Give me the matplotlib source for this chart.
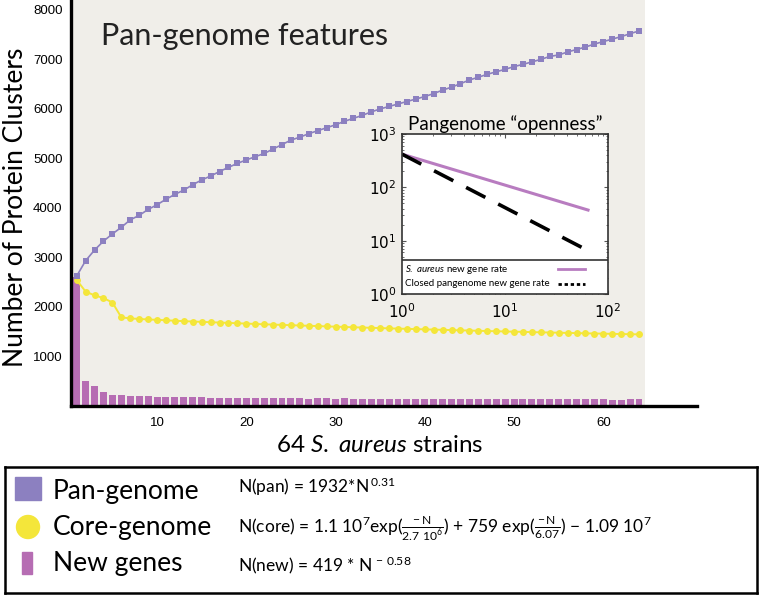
import numpy as np
import matplotlib.pyplot as plt
from matplotlib.patches import Rectangle, Circle

plt.rcParams['mathtext.fontset'] = 'custom'
plt.rcParams['mathtext.rm'] = 'Lato'
plt.rcParams['mathtext.it'] = 'Lato:italic'

# data
strains = np.arange(1, 65)
pan = [2626, 2935, 3150, 3330, 3475, 3610, 3760, 3850, 3970, 4065,
       4175, 4275, 4360, 4470, 4565, 4645, 4735, 4820, 4900, 4970,
       5035, 5100, 5190, 5280, 5370, 5430, 5500, 5560, 5620, 5680,
       5750, 5810, 5870, 5940, 6000, 6050, 6100, 6150, 6200, 6250,
       6310, 6380, 6440, 6510, 6585, 6640, 6700, 6750, 6800, 6855,
       6900, 6950, 7000, 7060, 7090, 7150, 7200, 7250, 7310, 7360,
       7410, 7460, 7520, 7575]
core = [2545, 2310, 2235, 2180, 2090, 1790, 1770, 1758, 1748, 1740,
        1731, 1722, 1714, 1706, 1699, 1692, 1685, 1678, 1671, 1664,
        1657, 1650, 1644, 1638, 1632, 1626, 1620, 1614, 1608, 1602,
        1596, 1590, 1585, 1579, 1574, 1568, 1563, 1558, 1553, 1548,
        1543, 1538, 1533, 1528, 1524, 1519, 1514, 1510, 1505, 1501,
        1497, 1492, 1488, 1484, 1480, 1476, 1472, 1468, 1464, 1461,
        1457, 1454, 1450, 1447]
new_genes = [2600, 505, 405, 290, 230, 225, 205, 195, 195, 180,
             180, 178, 175, 175, 172, 170, 165, 168, 165, 165,
             160, 162, 160, 158, 160, 155, 150, 152, 155, 150,
             152, 150, 148, 150, 145, 150, 148, 145, 150, 147,
             150, 145, 148, 150, 140, 145, 150, 148, 150, 145,
             140, 150, 148, 135, 150, 145, 148, 150, 140, 138,
             125, 130, 148, 145]
yticks = [1000, 2000, 3000, 4000, 5000, 6000, 7000, 8000]
xticks = [10, 20, 30, 40, 50, 60]

# inset: endpoints of the power-law fits (straight lines in log-log)
inset_n = [1, 64]
aureus_rate = [419, 37.5]
closed_rate = [419, 6.5]

pan_col = '#8c80c0'
core_col = '#f4e63a'
new_col = '#b66db3'
rate_col = '#b87cc0'
bg_col = '#f0eee9'

title_font = 'Lato'
tick_font = 'Liberation Sans'

fig = plt.figure(figsize=(7.62, 5.96), dpi=100)

# main axes
ax = fig.add_axes([71/762, 190/596, 626/762, 406/596])
ax.set_xlim(0.36, 70.5)
ax.set_ylim(0, 8200)
ax.axvspan(0.36, 64.7, color=bg_col, zorder=0, lw=0)
ax.bar(strains, new_genes, width=0.78, color=new_col, zorder=2)
ax.plot(strains, core, '-o', color=core_col, ms=5, mew=0, lw=1.4, zorder=3)
ax.plot(strains, pan, '-s', color=pan_col, ms=4.6, mew=0, lw=1.2, zorder=4)

for s in ['top', 'right']:
    ax.spines[s].set_visible(False)
ax.spines['left'].set_linewidth(2.4)
ax.spines['bottom'].set_linewidth(2.4)
ax.set_yticks(yticks)
ax.set_xticks(xticks)
ax.tick_params(length=0, labelsize=9.5)
ax.tick_params(axis='x', pad=8)
ax.tick_params(axis='y', pad=6)
for lab in ax.get_xticklabels() + ax.get_yticklabels():
    lab.set_family(tick_font)

ax.text(0.048, 0.912, 'Pan-genome features', transform=ax.transAxes,
        fontsize=22, family=title_font, color='#222222', va='center')
fig.text(16/762, 1 - 207/596, 'Number of Protein Clusters', rotation=90,
         fontsize=19, family=title_font, ha='center', va='center')
fig.text(380/762, 1 - 445/596, r'64 $\it{S.\ aureus}$ strains',
         fontsize=17.5, family=title_font, ha='center', va='center')

# inset
ins = fig.add_axes([402/762, 302/596, 206/762, 160/596])
ins.set_xscale('log')
ins.set_yscale('log')
ins.set_xlim(1, 100)
ins.set_ylim(1, 1000)
ins.plot(inset_n, aureus_rate, color=rate_col, lw=2.2)
ins.plot(inset_n, closed_rate, color='black', lw=2.6, dashes=(6, 4))
ins.tick_params(which='both', direction='in', top=True, right=True,
                labelsize=11, color='#555555')
ins.tick_params(which='major', length=3)
ins.tick_params(which='minor', length=1.5)
ins.tick_params(axis='x', which='major', pad=6)
ins.tick_params(axis='y', which='major', pad=4)
for s in ins.spines.values():
    s.set_linewidth(1.2)
    s.set_color('#333333')
ins.set_title('Pangenome \u201copenness\u201d', fontsize=13.5,
              family=title_font, pad=3)
# inset legend drawn as a strip along the bottom
ins.add_patch(Rectangle((0, 0), 1, 0.2125, transform=ins.transAxes,
                        facecolor='white', edgecolor='#333333', lw=1.2,
                        zorder=5))
ins.text(0.015, 0.156, r'$\it{S.\ aureus}$ new gene rate', transform=ins.transAxes,
         fontsize=7, family=title_font, va='center', zorder=6)
ins.text(0.015, 0.0625, 'Closed pangenome new gene rate', transform=ins.transAxes,
         fontsize=7, family=title_font, va='center', zorder=6)
ins.plot([0.757, 0.888], [0.156, 0.156], transform=ins.transAxes,
         color=rate_col, lw=2, zorder=6)
ins.plot([0.757, 0.888], [0.0625, 0.0625], transform=ins.transAxes,
         color='black', lw=2, ls=(0, (1.2, 1)), zorder=6)

# bottom legend box, in pixel coordinates
lg = fig.add_axes([5/762, 3/596, 752/762, 126/596])
lg.set_xlim(0, 752)
lg.set_ylim(126, 0)
lg.set_xticks([])
lg.set_yticks([])
for s in lg.spines.values():
    s.set_linewidth(1.8)
lg.add_patch(Rectangle((10, 10), 26, 23, color=pan_col))
lg.add_patch(Circle((23, 60), 11.5, color=core_col))
lg.add_patch(Rectangle((17, 85), 10, 22, color=new_col))
for y, name in [(24, 'Pan-genome'), (61, 'Core-genome'), (97, 'New genes')]:
    lg.text(48, y, name, fontsize=19, family=title_font, va='center')
formulas = [
    r'N(pan) = 1932*N$^{\,0.31}$',
    r'N(core) = 1.1 10$^7$exp($\frac{-\,\mathrm{N}}{2.7\ 10^6}$) + 759 exp($\frac{-\,\mathrm{N}}{6.07}$) $-$ 1.09 10$^7$',
    r'N(new) = 419 * N$^{\,-\,0.58}$',
]
for y, f in zip([20, 61, 98], formulas):
    lg.text(233, y, f, fontsize=12.5, family=title_font, va='center')

fig.savefig('out.png', dpi=100)
